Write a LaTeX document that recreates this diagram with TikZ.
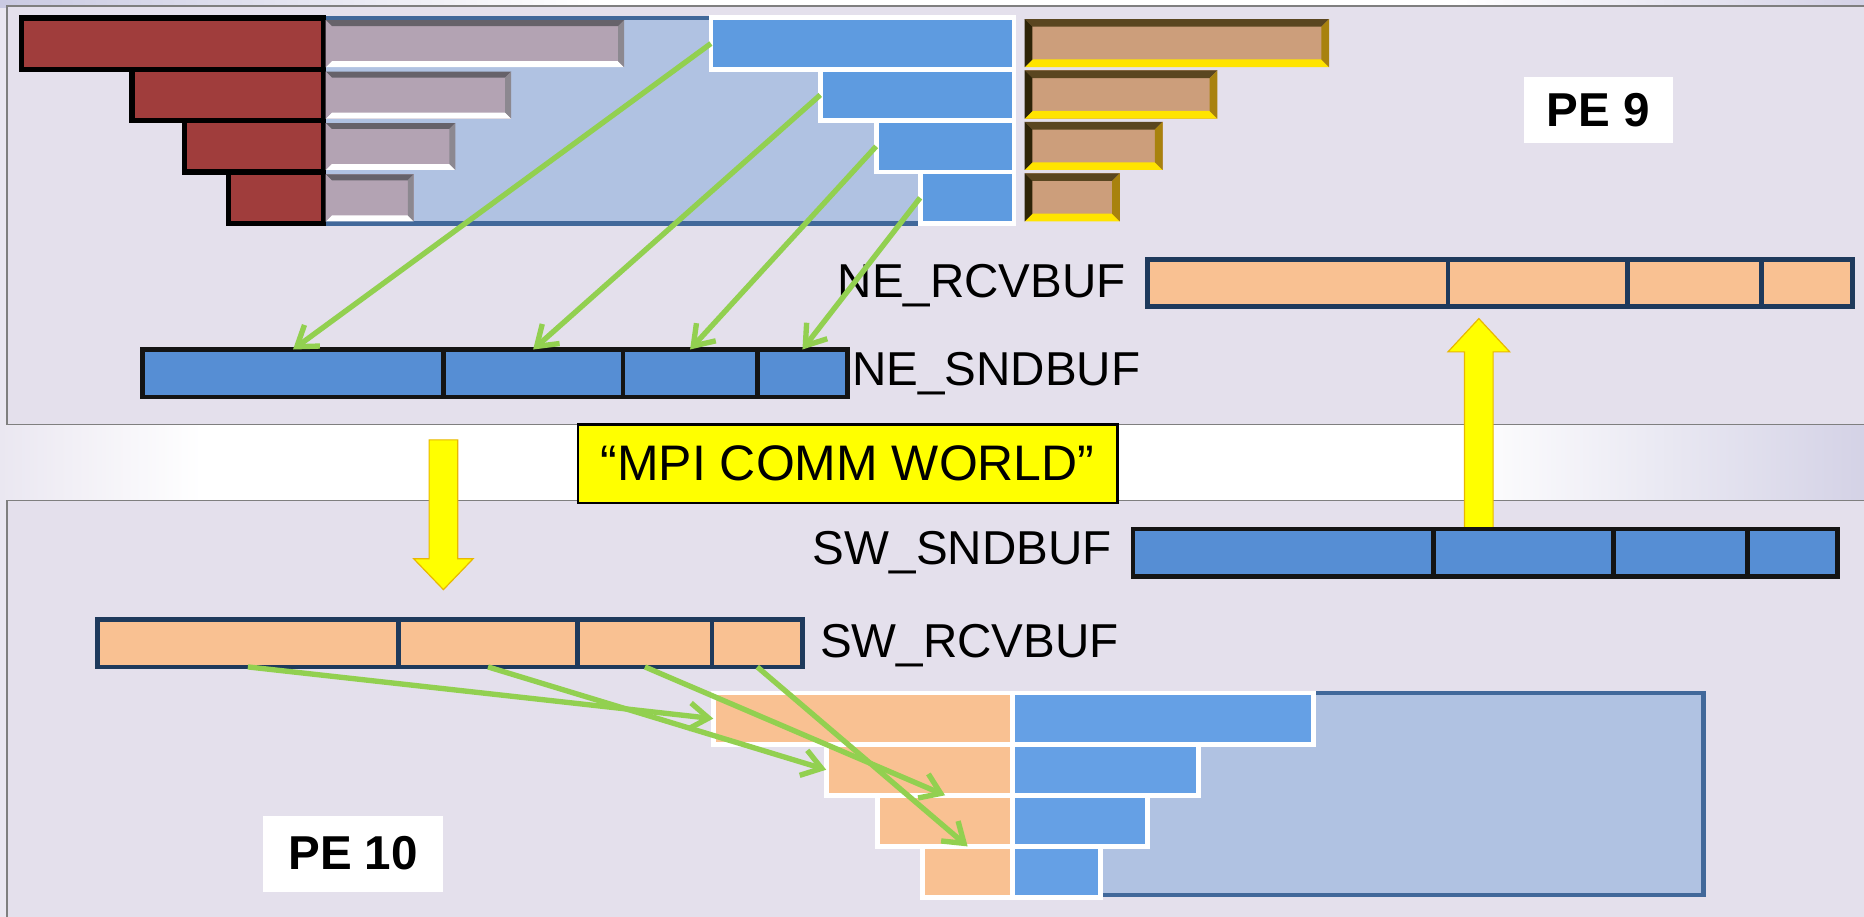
\documentclass[tikz,border=0pt]{standalone}
\usepackage{fontspec}
\setmainfont{Liberation Sans}
\usetikzlibrary{arrows.meta,calc}
\definecolor{panelc}{HTML}{E4E0EC}
\definecolor{panelb}{HTML}{7F7F7F}
\definecolor{lblue}{HTML}{B0C2E2}
\definecolor{lblueb}{HTML}{41689A}
\definecolor{redc}{HTML}{A03D3C}
\definecolor{grayc}{HTML}{B3A3B3}
\definecolor{grayt}{HTML}{66626A}
\definecolor{grayr}{HTML}{8C8890}
\definecolor{blueb}{HTML}{5E9BE0}
\definecolor{blueq}{HTML}{65A0E5}
\definecolor{tanc}{HTML}{CC9E7B}
\definecolor{tant}{HTML}{5A4620}
\definecolor{tanbot}{HTML}{FFE400}
\definecolor{tanl}{HTML}{2E2408}
\definecolor{tanr}{HTML}{A8820E}
\definecolor{peach}{HTML}{F9C192}
\definecolor{bufblue}{HTML}{568ED4}
\definecolor{navy}{HTML}{1E3A5C}
\definecolor{grn}{HTML}{92D050}
\definecolor{yel}{HTML}{FFFF00}
\definecolor{yelb}{HTML}{E8B800}
\definecolor{bgl}{HTML}{EAE7F1}
\definecolor{bgr}{HTML}{D4D2E6}
\definecolor{bgt}{HTML}{CACAE2}
\tikzset{
  bevel/.style n args={5}{path picture={
    \path (path picture bounding box.north west) coordinate (ppa)
          (path picture bounding box.north east) coordinate (ppb)
          (path picture bounding box.south east) coordinate (ppc)
          (path picture bounding box.south west) coordinate (ppd);
    \fill[#2] (ppa) -- (ppb) -- ([shift={(-#1,#1)}]ppb) -- ([shift={(#1,#1)}]ppa) -- cycle;
    \fill[#3] (ppd) -- (ppc) -- ([shift={(-#1,-#1)}]ppc) -- ([shift={(#1,-#1)}]ppd) -- cycle;
    \fill[#4] (ppa) -- (ppd) -- ([shift={(#1,-#1)}]ppd) -- ([shift={(#1,#1)}]ppa) -- cycle;
    \fill[#5] (ppb) -- (ppc) -- ([shift={(-#1,-#1)}]ppc) -- ([shift={(-#1,#1)}]ppb) -- cycle;
  }},
  blk/.style={rectangle,anchor=north west},
  panel/.style={draw=panelb,line width=1.5,fill=panelc},
  bgbox/.style={blk,fill=lblue,draw=lblueb,line width=3.5},
  redbox/.style={blk,fill=redc,draw=black,line width=4.5,minimum height=43.25},
  graybar/.style={blk,fill=grayc,minimum height=39.5,bevel={5}{grayt}{white}{grayc}{grayr}},
  tanbar/.style={blk,fill=tanc,minimum height=40.5,bevel={6.5}{tant}{tanbot}{tanl}{tanr}},
  wblue/.style={blk,fill=blueb,draw=white,line width=4,minimum height=43.25},
  wblueq/.style={blk,fill=blueq,draw=white,line width=4,minimum height=43},
  wpeach/.style={blk,fill=peach,draw=white,line width=4,minimum height=43},
  cell/.style={rectangle,minimum height=40,line width=4},
  pcell/.style={cell,fill=peach,draw=navy},
  bcell/.style={cell,fill=bufblue,draw=black!92},
  lbl/.style={font=\fontsize{40}{48}\selectfont,text=black},
  pelbl/.style={fill=white,font=\fontsize{40}{48}\selectfont\bfseries},
  garrow/.style={draw=grn,line width=4.5,-{Straight Barb[length=16pt,width=22pt]}},
  yarrow/.style={fill=yel,draw=yelb,line width=1},
}
\begin{document}
\begin{tikzpicture}[x=1pt,y=-1pt,every node/.style={inner sep=0pt,outer sep=0pt}]
\useasboundingbox (0,0) rectangle (1568,771);
\clip (0,0) rectangle (1568,771);
% slide background
\fill[white] (0,0) rectangle (1568,771);
\shade[left color=bgl,right color=white] (0,0) rectangle (170,771);
\shade[left color=white,right color=bgr] (1230,0) rectangle (1568,771);
\shade[left color=bgt,right color=white] (0,0) rectangle (500,6);
% panels
\draw[panel] (6,5) rectangle (1580,357);
\draw[panel] (6,421) rectangle (1580,790);

% ---------------- PE 9 ----------------
\node[bgbox,minimum width=578,minimum height=173] (tbg) at (272,15) {};
\node[redbox,minimum width=254] (r1) at (18,15) {};
\node[redbox,minimum width=161] (r2) at (111,58.25) {};
\node[redbox,minimum width=117] (r3) at (155,101.5) {};
\node[redbox,minimum width=80]  (r4) at (192,144.75) {};
\node[graybar,minimum width=251] (g1) at (274,17) {};
\node[graybar,minimum width=156] (g2) at (274,60.25) {};
\node[graybar,minimum width=109] (g3) at (274,103.5) {};
\node[graybar,minimum width=74]  (g4) at (274,146.75) {};
\node[wblue,minimum width=255] (b1) at (598,15) {};
\node[wblue,minimum width=163] (b2) at (690,58.25) {};
\node[wblue,minimum width=116] (b3) at (737,101.5) {};
\node[wblue,minimum width=79]  (b4) at (774,144.75) {};
\node[tanbar,minimum width=256] (t1) at (862,16) {};
\node[tanbar,minimum width=162] (t2) at (862,59.25) {};
\node[tanbar,minimum width=116] (t3) at (862,102.5) {};
\node[tanbar,minimum width=80]  (t4) at (862,145.75) {};
\node[pelbl,minimum width=125,minimum height=56] (pe9) at (1344.5,92.5) {PE 9};

% NE_RCVBUF
\node[lbl,anchor=east] (lnr) at (947,240) {NE\_RCVBUF};
\node[pcell,anchor=north west,minimum width=253] (nr1) at (965,218) {};
\node[pcell,anchor=west,minimum width=151] (nr2) at (nr1.east) {};
\node[pcell,anchor=west,minimum width=113] (nr3) at (nr2.east) {};
\node[pcell,anchor=west,minimum width=76]  (nr4) at (nr3.east) {};
% NE_SNDBUF
\node[bcell,anchor=north west,minimum width=253] (ns1) at (120,294) {};
\node[bcell,anchor=west,minimum width=151] (ns2) at (ns1.east) {};
\node[bcell,anchor=west,minimum width=113] (ns3) at (ns2.east) {};
\node[bcell,anchor=west,minimum width=76]  (ns4) at (ns3.east) {};
\node[lbl,anchor=west] (lns) at (717,314) {NE\_SNDBUF};

\draw[garrow] (b1.west) -- (ns1.north);
\draw[garrow] (b2.west) -- (ns2.north);
\draw[garrow] (b3.west) -- (ns3.north);
\draw[garrow] (b4.west) -- (ns4.north);

% ---------------- PE 10 ----------------
\node[bgbox,minimum width=581,minimum height=170] (bbg) at (852,583) {};
\node[wpeach,minimum width=252] (p1) at (600,583) {};
\node[wpeach,minimum width=157] (p2) at (695,626) {};
\node[wpeach,minimum width=114] (p3) at (738,669) {};
\node[wpeach,minimum width=76]  (p4) at (776,712) {};
\node[wblueq,minimum width=253] (q1) at (852,583) {};
\node[wblueq,minimum width=156] (q2) at (852,626) {};
\node[wblueq,minimum width=113] (q3) at (852,669) {};
\node[wblueq,minimum width=74]  (q4) at (852,712) {};
\node[pelbl,minimum width=152,minimum height=64] (pe10) at (297,718) {PE 10};

% yellow transfer arrows
\coordinate (dtail) at (373,370);
\coordinate (dtip) at (373,496);
\filldraw[yarrow] ($(dtail)+(-12,0)$) -- ($(dtail)+(12,0)$) -- ($(dtip)+(12,-26)$)
  -- ($(dtip)+(25,-26)$) -- (dtip) -- ($(dtip)+(-25,-26)$) -- ($(dtip)+(-12,-26)$) -- cycle;
\coordinate (utail) at (1244,447);
\coordinate (utip) at (1244,268);
\filldraw[yarrow] ($(utail)+(-12,0)$) -- ($(utip)+(-12,28)$) -- ($(utip)+(-26,28)$)
  -- (utip) -- ($(utip)+(26,28)$) -- ($(utip)+(12,28)$) -- ($(utail)+(12,0)$) -- cycle;

% SW_SNDBUF
\node[lbl,anchor=east] (lss) at (935,465) {SW\_SNDBUF};
\node[bcell,anchor=north west,minimum width=253] (ss1) at (953,445) {};
\node[bcell,anchor=west,minimum width=151] (ss2) at (ss1.east) {};
\node[bcell,anchor=west,minimum width=113] (ss3) at (ss2.east) {};
\node[bcell,anchor=west,minimum width=76]  (ss4) at (ss3.east) {};
% SW_RCVBUF
\node[pcell,anchor=north west,minimum width=253] (sr1) at (82,521) {};
\node[pcell,anchor=west,minimum width=151] (sr2) at (sr1.east) {};
\node[pcell,anchor=west,minimum width=113] (sr3) at (sr2.east) {};
\node[pcell,anchor=west,minimum width=76]  (sr4) at (sr3.east) {};
\node[lbl,anchor=west] (lsr) at (690,543) {SW\_RCVBUF};

\draw[garrow] (sr1.south) -- (p1.west);
\draw[garrow] (sr2.south) -- (p2.west);
\draw[garrow] (sr3.south) -- (p3.north);
\draw[garrow] (sr4.south) -- (p4.north);

% MPI COMM WORLD
\node[fill=yel,draw=black,line width=2,minimum width=454,minimum height=66,
      font=\fontsize{42}{50}\selectfont] (mpi) at (713,390) {“MPI COMM WORLD”};
\end{tikzpicture}
\end{document}
